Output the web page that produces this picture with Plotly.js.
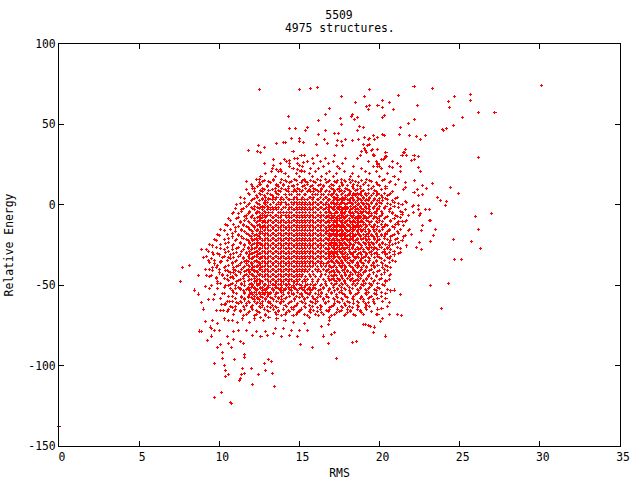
<!DOCTYPE html>
<html><head><meta charset="utf-8">
<script src="https://cdn.plot.ly/plotly-3.0.1.min.js"></script>
<style>html,body{margin:0;padding:0;background:#fff}
.scatterlayer .point{shape-rendering:crispEdges}
</style></head><body><div id="c" style="width:640px;height:480px"></div>
<script>
const chartTitle="5509";
const chartSubtitle="4975 structures.";
const xLabel="RMS", yLabel="Relative Energy";
const xTicks=[0,5,10,15,20,25,30,35];
const yTicks=[-150,-100,-50,0,50,100];
const strayX=[0], strayY=[-138];
const upperX=[12.5,15,15.7,16.1,14.3,16.2,14.4,14.75,15.5,15.4,16.2,14.5,15,15,15.25,13.55,14,14.15,12.45,12.8,11.8,12.4,12.55,14.6,16.05,15.1,12.8,13.4,13.4,14.05,14.4,14.4,14.9,14.9,15.25,13.55,13.25,13.8,13.9,14.9,15,15.1,15.3,11.7,12.5,12.55,12.1,12.2,30.1,22.15,23.3,17.6,19.4,19.05,18.5,21.2,20.2,20.6,19.9,20.2,20.85,19.2,19.4,19.3,22.35,24.3,24.35,24.7,25.65,25.7,26.15,27.2,25.15,22.2,21.8,21.3,24.6,23.95,24,24.15,21.25,21.85,22.3,22.55,22.85,20.2,20.3,16.85,16.6,17.55,17.6,18.3,18.25,18.45,18.6,20.2,20.3,18.75,19,18.6,16.6,17.2,17.45,16.55,17.4,17.6,16.75,17.3,17.7,17.85,18.3,18.7,19.05,19.35,19.3,19.65,19.85,19.7,19,19.35,19.25,19.05,18.9,19.15,19.2,19.85,19.55,19.5,19.6,19.65,20.4,20.45,20.35,20.25,20.1,19.8,19.9,19.85,20,21.6,21.55,21.5,21.7,22.15,22.4,22,22.2,26.2,22.4,22.55,21.3,20.8,22.2,22.7,23.3,21.6,21.6,22.35,22.15,22.4,22.7,22.9,24.45,24.95,23.6,23.8,24.15,24.1,21.6,21.7,22.1,22.05,22.4,22.4,22.85,23.1,22.1,22.55,22.5,27,26,26.15,23.1,23.15,21.6,21.7,21.2,21.2,21.4,21.4,22.7,22.6,23.5,23.35,22,21.85,24.6];
const upperY=[71.6,71.6,72.2,72.8,55.2,52.3,47.4,47.4,48.2,46.1,43.6,41.2,41.2,39.3,38.7,38.1,38.7,38.7,36.8,35.6,33.7,33.1,32.5,33.1,37.5,30.6,25.6,28.1,24.4,28.1,27.5,25.6,28.8,25.6,26.2,22,20.7,22,20.7,22,24.4,21.3,20.7,14.5,15.7,12.6,11.4,10.1,74,73.4,72.2,67.2,71.6,67.2,63.5,67.9,64.7,63.5,61.6,60.4,59.1,61,61.6,59.1,61.6,64.1,60.4,67.2,68.4,64.7,57.3,57.3,54.2,53,50.5,48,49.2,46.8,46.1,47.4,43.6,43,42.3,40.5,43,43.6,43,59.8,56.1,53.6,49.9,56.1,54.8,52.9,54.2,54.2,55.4,48.6,48,46.1,46.1,44.3,44.3,40.5,39.9,39.3,38.1,36.8,36.8,40.5,39.9,40.5,41.8,41.2,40.5,43,41.8,40.5,37.4,37.4,36.8,35,33.1,33.7,32.5,34.3,34.3,33.7,31.2,30.6,32.5,30,30,28.1,28.1,26.9,25,23.8,23.8,34.4,32.5,32.5,30.6,30.6,30,27.5,28.1,29.3,23.2,20.7,23.8,23.2,15.1,12,13.3,13.9,10.8,9.5,7.7,5.8,6.4,10.2,10.8,7,4.6,2.8,2,-0.4,2,1.4,-0.4,-1,-0.4,-2.9,-2.9,-2.9,-4.7,-5.4,-6.6,-5.4,-7.2,-15.3,-9.7,-9.7,-10.3,-9.7,-10.3,-12.1,-4.7,-5.9,-12.8,-15.9,-15.3,-19,-18.4,-15.3,-21.3];
const lowerX=[23.15,24.3,23.85,17.3,16.8,16.5,17,17.2,18.3,18.55,20.35,19.6,19.7,20.6,21.1,21.35,20.05,20.2,19.9,20.1,20.15,20.6,20.4,21.3,20.9,19,19.1,19.3,19.45,16.8,16.85,16.9,16.35,25.75,26.3,24.65,25.1,23.2,22.5,22.6,22.3,9.7,10.15,10.7,10.75,11.3,12.05,13.45,11.25,10.4,10.6,10.4,10.35,9.7,10.2,10.2,10.95,11.55,11.55,11.45,11.4,11.55,12,12.45,12.9,13.3,12.8,13.05,13.25,9.9,10.75,9.25,9.5,8.75,8.9,9.15,9.45,9.5,7.6,7.7,8.15,8.7,8.45,8.7,8.9,9,8.9,9.2,9.35,9.4,9.15,9.15,9.4,9.35,9.65,9.5,9.6,9.65,10.1,10.4,10.5,10.9,11.3,11.5,12.1,12.6,13,13.4,13.9,14.4,14.9,15.05,15.8,10.1,10.6,10.9,11.2,11.7,12.3,12.9,13.5,14,14.5,15,15.5,9.7,10,10.3,10.6,10.85,11.15,11.45,11.9,12.2,12.55,12.75,13.1,13.6,14.1,14.65,15.3,15.65,9.6,9.9,10.25,10.55,10.95,11.3,9.8,10.1,10.35,10.65,11,11.4,10.15,10.5,10.8,9.7,10.2,10.6,11,9.5,9.9,10.3,10.7,11.1,9.8,10.2,10.5,10.9,9.4,9.8,10.15,10.6];
const lowerY=[-50,-48.8,-64.3,-95.3,-86,-81.6,-80.4,-79.2,-85.4,-84.8,-81.6,-79.2,-76,-68,-68,-68.6,-72.3,-70.5,-68,-64.3,-64.3,-61,-58,-55.6,-53,-74.3,-74.3,-75,-75.8,-74.3,-70,-72,-75.5,-22.7,-27,-33.9,-33.9,-22.7,-23.4,-28,-26.5,-120,-117,-123,-123.5,-108,-112,-113,-109,-107,-105.5,-103,-100,-98.5,-95.3,-92,-96,-94.8,-92.9,-102,-105.5,-104.9,-101.7,-105.5,-103,-104.9,-98.5,-96,-97.2,-88.5,-88.5,-84.2,-81.6,-78.5,-79,-72.3,-76,-76.7,-47.5,-38.8,-37.5,-44,-53,-55.5,-60.5,-64.8,-28,-32,-34.5,-36,-40.5,-51,-52,-59,-59,-44,-39,-31,-58,-62,-82,-84,-85,-86,-81,-82,-81,-80,-82,-81,-82,-87,-89,-87,-86,-79,-78,-78,-79,-79,-77,-77,-78,-78,-78,-78,-78,-71,-72,-72,-73,-71,-73,-71,-70,-72,-70,-71,-72,-73,-74,-70,-72,-74,-66,-65,-66,-66,-66,-66,-62,-60,-63,-61,-62,-60,-57,-56,-55,-50,-52,-50,-49,-46,-45,-44,-45,-44,-41,-42,-40,-39,-35,-33,-36,-34];
const rowLevels=[30.4,28.8,27.2,25.6,24,22.4,20.8,19.2,17.6,16,14.4,12.8,11.2,9.6,8,6.4,4.8,3.2,1.6,0,-1.6,-3.2,-4.8,-6.4,-8,-9.6,-11.2,-12.8,-14.4,-16,-17.6,-19.2,-20.8,-22.4,-24,-25.6,-27.2,-28.8,-30.4,-32,-33.6,-35.2,-36.8,-38.4,-40,-41.6,-43.2,-44.8,-46.4,-48,-49.6,-51.2,-52.8,-54.4,-56,-57.6,-59.2,-60.8,-62.4,-64,-65.6,-67.2,-68.8];
const rowTenthsOfRms=[
[153,161,172,188,197,214],
[147,158,166,179,186,203],
[142,155,163,171,193,208],
[138,149,159,168,177,199,211],
[144,152,165,174,184,196,206],
[133,146,157,162,175,189,201],
[137,151,160,169,178,191,198,213],
[129,141,148,156,167,173,183,194,205],
[126,135,143,150,158,164,171,182,187,200,209],
[123,134,139,147,153,161,166,176,181,192,203,212],
[127,131,142,145,154,159,168,172,179,185,195,207],
[120,125,136,140,149,155,163,170,177,184,190,199,210],
[124,130,137,143,146,152,157,165,169,175,183,188,196,204],
[117,128,133,141,147,150,156,160,164,171,174,180,186,193,201,215],
[122,127,135,138,143,146,148,151,155,157,159,162,163,166,169,172,175,178,182,189,198,208],
[119,126,132,137,141,144,145,149,150,153,154,158,160,161,164,165,168,170,173,176,181,185,187,191,199,206],
[113,124,129,134,136,139,142,147,148,152,156,157,159,163,166,167,171,172,174,177,179,183,186,190,194,202,211],
[121,127,131,133,135,138,140,143,144,146,149,151,153,155,158,161,162,165,168,169,173,175,178,180,184,188,192,197,205],
[116,123,128,130,134,137,139,141,145,147,148,150,152,154,156,159,160,163,164,167,170,171,174,176,177,181,182,185,189,195,200,209],
[111,118,125,129,132,136,138,142,143,146,149,151,153,155,157,158,161,162,165,166,168,172,173,175,179,183,186,187,190,193,198,207,214],
[120,124,126,128,131,133,135,137,140,141,144,145,148,150,152,154,156,159,160,163,164,167,169,170,174,176,178,180,184,188,191,196,203,212],
[114,122,127,130,132,134,136,139,143,146,147,149,151,153,155,157,158,161,162,165,168,171,172,175,177,179,182,185,187,190,194,199,206,216],
[109,119,123,125,129,131,133,137,138,140,142,144,145,148,150,152,154,156,159,160,163,166,167,169,173,174,176,178,181,183,186,189,192,197,208],
[117,121,126,128,130,132,135,136,139,141,143,146,147,149,151,153,155,157,158,161,162,164,165,168,170,172,175,177,180,182,184,187,190,195,201,210,218],
[112,120,124,127,129,133,134,137,138,142,144,145,148,150,152,154,156,159,160,163,166,167,169,171,173,176,178,179,183,185,188,191,193,198,204,213],
[107,116,122,125,126,128,131,132,135,136,139,140,143,146,147,149,151,153,155,157,158,161,162,164,165,168,170,172,174,175,177,180,181,184,186,189,192,200,207],
[113,119,123,127,129,130,133,134,137,138,141,142,144,145,148,150,152,154,156,159,160,163,166,167,169,171,173,176,178,179,182,183,185,187,190,194,199,211],
[105,115,121,124,125,128,131,132,135,136,139,140,143,146,147,149,151,153,155,157,158,161,162,164,165,168,170,172,174,175,177,180,181,184,186,188,192,197,205,215],
[110,118,122,126,127,129,130,133,134,137,138,141,142,144,145,148,150,152,154,156,159,160,163,166,167,169,171,173,176,178,179,182,183,185,187,191,196,202,209],
[103,114,120,123,124,128,131,132,135,136,139,140,143,146,147,149,151,153,155,157,158,161,162,164,165,168,170,172,174,175,177,180,181,184,186,189,194,200,206,218],
[108,117,121,125,126,127,129,130,133,134,137,138,141,142,144,145,148,150,152,154,156,159,160,163,166,167,169,171,173,176,178,179,182,183,187,193,198,204,212],
[100,112,119,122,124,128,131,132,135,136,139,140,143,146,147,149,151,153,155,157,158,161,162,164,165,168,170,172,174,175,177,180,181,184,185,188,195,201,208,216],
[106,115,120,123,125,126,129,130,133,134,137,138,141,142,144,145,148,150,152,154,156,159,160,163,166,167,169,171,173,176,178,179,182,183,186,190,197,203,211],
[98,110,118,121,124,127,128,131,132,135,136,139,140,143,146,147,149,151,153,155,157,158,161,162,164,165,168,170,172,174,175,177,180,181,184,185,192,199,207,214],
[104,113,119,122,123,125,126,129,130,133,134,137,138,141,142,144,145,148,150,152,154,156,159,160,163,166,167,169,171,173,176,178,179,182,187,191,196,202,210],
[96,108,116,120,124,127,128,131,132,135,136,139,140,143,146,147,149,151,153,155,157,158,161,162,164,165,168,170,172,174,175,177,180,181,184,189,194,200,206,217],
[101,111,118,121,122,125,126,129,130,133,134,137,138,141,142,144,145,148,150,152,154,156,159,160,163,166,167,169,171,173,176,178,179,183,188,193,198,205,213],
[93,106,114,119,123,124,127,128,131,132,135,136,139,140,143,146,147,149,151,153,155,157,158,161,162,164,165,168,170,172,174,175,177,181,185,190,195,203,209],
[99,109,117,120,121,125,126,129,130,133,134,137,138,141,142,144,145,148,150,152,154,156,159,160,163,166,167,169,171,173,176,178,182,187,192,197,204,212],
[103,112,118,122,123,124,127,128,131,132,135,136,139,140,143,146,147,149,151,153,155,157,158,161,162,164,165,168,170,172,174,177,179,184,186,191,199,207],
[95,107,115,119,120,121,125,126,129,130,133,134,137,138,141,142,144,145,148,150,152,154,156,159,160,163,166,167,169,171,175,178,180,185,189,194,201,206],
[101,110,116,118,122,123,124,127,128,131,132,135,136,139,140,143,146,147,149,151,153,155,157,158,161,162,164,168,170,173,174,176,183,188,193,198,210],
[97,108,113,117,120,121,125,126,129,130,133,134,137,138,141,142,144,145,148,150,152,154,156,159,160,163,165,167,172,175,177,181,186,190,196,202],
[104,111,116,119,122,123,124,127,128,131,132,135,136,139,140,143,146,147,149,151,153,155,157,158,161,164,166,169,171,176,179,182,187,192,197,205],
[100,109,114,118,120,121,125,126,129,130,133,134,137,138,141,142,144,145,148,150,152,154,156,160,162,165,168,173,178,184,189,195,203],
[106,112,116,119,122,123,124,127,128,131,132,135,136,139,140,143,146,147,149,151,153,155,158,161,163,167,170,174,180,185,191,199],
[102,110,117,120,121,125,126,129,130,133,134,137,138,141,142,144,145,148,150,152,156,159,164,166,172,179,183,188,194,201,207],
[94,108,115,118,122,123,127,128,131,132,135,136,139,140,143,146,147,149,151,154,157,160,163,168,171,176,181,187,193,198],
[105,113,119,120,124,125,129,130,133,134,137,138,141,142,144,145,148,150,153,155,158,162,165,170,175,182,186,192,200,206],
[99,111,116,122,123,126,127,131,132,135,136,139,140,143,146,147,149,152,154,158,161,166,173,178,184,190,196,204],
[107,114,119,121,124,125,128,129,133,134,137,138,141,142,144,148,150,155,157,160,164,172,177,183,189,195,202],
[103,112,118,120,122,126,127,130,131,135,136,139,143,145,147,151,153,156,159,165,171,176,181,188,194,199],
[113,117,119,123,124,128,129,133,134,138,141,144,148,152,155,158,163,169,174,179,186,191,197,205],
[109,116,120,122,125,127,130,132,136,139,143,149,154,157,164,170,175,182,187,193,201],
[119,121,123,126,128,131,135,140,146,151,156,162,167,173,178,185,192,198],
[114,118,120,124,127,132,137,142,150,155,161,168,174,180,189,194],
[116,122,125,129,134,139,147,153,160,165,172,177,184,190,196],
[111,119,124,131,138,144,152,158,166,175,181,187,193],
[117,121,127,133,141,148,156,163,171,179,186,192],
[108,120,126,132,136,145,154,161,169,177,183,191],
[113,123,130,137,143,150,159,167,176,182,188],
[118,125,135,142,149,157,164,173,180,189],
[115,122,129,139,146,155,162,170,178,185]
];
const fillLevels=[15.2,13.6,12,10.4,8.8,7.2,5.6,4,2.4,0.8,-0.8,-2.4,-4,-5.6,-7.2,-8.8,-10.4,-12,-13.6,-15.2,-16.8,-18.4,-20,-21.6,-23.2,-24.8,-26.4,-28,-29.6,-31.2,-32.8,-34.4,-36,-37.6,-39.2,-40.8,-42.4,-44,-45.6,-47.2,-48.8,-50.4,-52,-53.6,-55.2,-56.8,-58.4,-60,-61.6,-63.2,-64.8,-66.4,-68];
const fillTenthsOfRms=[
[128,134,141,148,152,157,163,169,174,178,183,189,194,202],
[125,132,138,144,151,155,160,167,173,176,182,187,191,198,206],
[130,136,140,146,153,158,162,165,171,177,180,186,193,200],
[121,127,135,139,143,149,154,159,164,170,175,179,184,188,195,204],
[126,131,137,142,147,152,156,161,167,172,176,181,185,190,197],
[118,125,130,136,171,177,181,184,186,188,191,193,196,199,203,207],
[123,128,133,170,174,179,180,183,185,189,192,195,198,201,205],
[116,122,127,131,172,176,178,182,187,190,194,197,200,204,210],
[120,125,129,168,171,174,177,181,184,186,189,191,193,196,199,202,208],
[113,119,124,128,170,173,176,178,180,183,187,190,192,195,198,201,205,212],
[117,122,127,130,169,172,175,179,182,185,188,191,194,197,200,204,209],
[110,115,121,125,166,171,174,177,180,183,186,189,192,193,196,199,203,207],
[114,119,124,128,169,173,176,179,181,185,188,190,191,194,198,201,206,213],
[108,112,118,123,127,170,172,176,178,182,184,187,189,193,195,198,202,208],
[116,120,125,129,167,171,174,177,179,183,186,188,191,194,197,200,205,211],
[106,111,117,122,126,170,173,175,178,181,185,187,190,192,196,199,203,209],
[113,118,124,128,168,172,176,179,182,184,188,189,193,195,198,202,207,214],
[104,109,115,120,125,171,174,177,180,183,186,190,191,194,197,201,204,210],
[112,117,122,127,169,172,175,178,181,185,187,189,192,195,199,203,208],
[101,107,114,119,124,170,173,176,179,182,184,188,190,193,196,198,202,206,213],
[110,116,121,126,167,171,174,177,180,183,186,189,191,194,197,200,205,211],
[99,105,112,118,123,170,172,175,178,181,185,187,190,192,195,198,201,204,209],
[108,114,120,125,169,173,176,179,182,184,188,191,193,196,199,203,207,215],
[97,103,111,117,122,168,171,174,177,180,183,186,189,192,194,197,200,205,210],
[106,113,119,124,170,172,175,178,181,185,187,190,193,195,198,202,206,212],
[94,101,109,116,121,126,169,173,176,179,182,184,188,191,194,196,200,204,208],
[98,105,112,118,123,171,174,177,180,183,186,189,192,195,197,201,205,211],
[92,103,108,115,120,125,168,172,175,178,181,185,187,190,193,196,199,203,207],
[96,104,111,117,122,170,173,176,179,182,184,188,191,194,198,202,206,213],
[100,107,113,119,124,169,171,174,177,180,183,186,189,192,195,199,204,209],
[90,102,109,115,121,126,172,175,178,181,185,187,190,193,197,200,205],
[97,105,111,117,123,170,173,176,179,182,184,188,191,194,198,203,208],
[94,101,108,114,120,125,168,171,174,177,180,183,186,189,193,196,201,206],
[99,106,112,118,124,169,172,175,178,181,185,187,190,195,199,204],
[103,109,115,121,126,170,173,176,179,183,186,189,192,197,202,207],
[96,104,110,117,122,167,171,174,177,180,184,188,191,194,200,205],
[100,107,113,119,124,169,172,175,178,182,185,187,190,196,203],
[92,105,111,116,121,125,170,173,176,179,181,186,189,193,198,206],
[98,103,109,115,122,168,171,174,177,180,183,188,192,195,201],
[106,112,118,123,126,169,172,175,178,182,185,187,190,197,204],
[101,108,114,120,125,166,170,173,176,179,184,186,191,194,199],
[104,110,116,121,124,128,131,135,139,142,146,151,154,159,163,167,171,175,180,185,190,195,203],
[99,107,113,118,122,126,130,133,137,141,147,150,156,160,165,169,174,178,183,188,193,200],
[108,115,119,123,127,129,134,138,140,145,149,153,157,162,168,172,176,181,187,192,198,207],
[103,111,116,120,125,128,132,136,143,146,151,155,160,164,170,177,182,186,191,197,204],
[106,114,118,122,126,130,135,139,144,148,152,158,163,167,173,179,184,189,195,201],
[101,110,116,121,124,129,133,137,141,147,153,159,165,171,176,183,188,193,199],
[108,113,118,122,127,131,136,140,145,151,157,161,168,174,180,186,190,196,202],
[104,112,117,123,126,132,138,143,149,154,160,166,172,178,184,191,197],
[107,115,120,125,130,135,142,147,153,158,164,170,176,181,187,194,205],
[110,116,121,128,134,140,146,151,157,163,169,174,180,186,192,199],
[105,113,119,124,131,137,144,150,156,161,168,175,182,188,195],
[109,117,123,129,136,141,148,153,160,165,172,179,184,190,198]
];
const coreX=[],coreY=[];
rowTenthsOfRms.forEach((xs,i)=>xs.forEach(t=>{coreX.push(t/10);coreY.push(rowLevels[i]);}));
fillTenthsOfRms.forEach((xs,i)=>xs.forEach(t=>{coreX.push(t/10);coreY.push(fillLevels[i]);}));
const pts={type:'scatter',mode:'markers',hoverinfo:'skip',cliponaxis:false,
 marker:{symbol:'cross-thin',size:2.2,color:'#ff0000',line:{color:'#ff0000',width:1}}};
const F={family:'"DejaVu Sans Mono",monospace',size:11.4,color:'#000'};
const ax={showgrid:false,zeroline:false,showline:true,linecolor:'#000',linewidth:1,mirror:'ticks',ticks:'inside',ticklen:5,tickwidth:1,tickcolor:'#000',tickfont:F,tickmode:'array',automargin:false};
Plotly.newPlot('c',[
 Object.assign({},pts,{x:coreX,y:coreY}),
 Object.assign({},pts,{x:upperX,y:upperY}),
 Object.assign({},pts,{x:lowerX,y:lowerY}),
 {type:'scatter',mode:'markers',hoverinfo:'skip',cliponaxis:false,x:strayX,y:strayY,marker:{symbol:'line-ew',size:3,line:{color:'#900000',width:1}}}
],{
 width:640,height:480,showlegend:false,paper_bgcolor:'#fff',plot_bgcolor:'#fff',
 margin:{l:58.5,r:19.5,t:43.5,b:33.5},
 title:{text:chartTitle,font:F,x:339/640,xanchor:'center',y:1-15.5/480,yanchor:'middle'},
 annotations:[{text:chartSubtitle,xref:'paper',yref:'paper',x:0.5,y:1,yshift:16.5,xanchor:'center',yanchor:'middle',showarrow:false,font:F}],
 xaxis:Object.assign({},ax,{range:[0,35],tickvals:xTicks,ticktext:xTicks.map(String),title:{text:xLabel,font:F,standoff:7},ticklabelshift:3}),
 yaxis:Object.assign({},ax,{range:[-150,100],tickvals:yTicks,ticktext:yTicks.map(v=>String(v)),title:{text:yLabel,font:F,standoff:12}})
},{displayModeBar:false,staticPlot:true});
</script></body></html>
